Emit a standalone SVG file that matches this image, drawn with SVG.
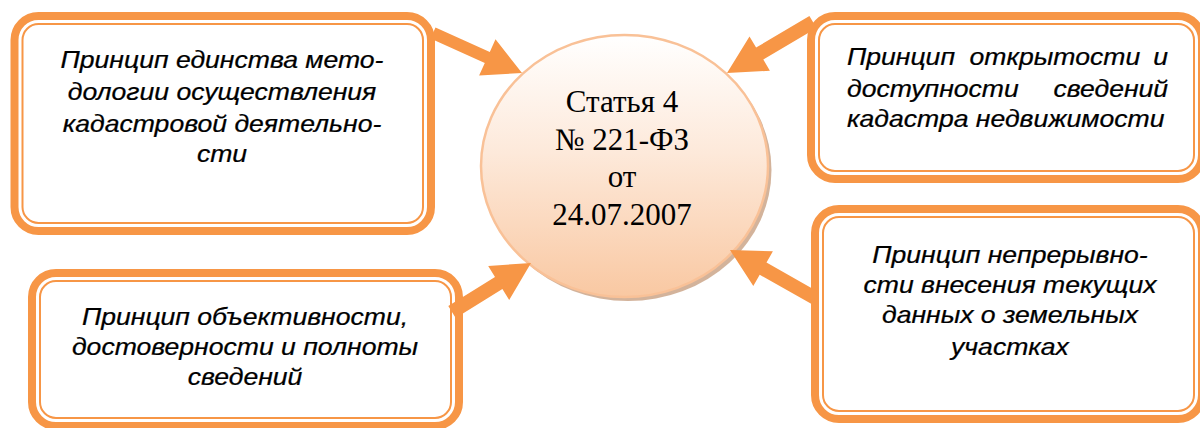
<svg xmlns="http://www.w3.org/2000/svg" width="1200" height="428" viewBox="0 0 1200 428">
<defs>
<linearGradient id="cg" x1="0" y1="0" x2="0" y2="1">
<stop offset="0" stop-color="#FFFFFF"/>
<stop offset="0.45" stop-color="#FDE9DA"/>
<stop offset="1" stop-color="#F9C8A2"/>
</linearGradient>
<style>
.outer{fill:#FFFFFF;stroke:#F79646;stroke-width:8}
.inner{fill:none;stroke:#F79646;stroke-width:2}
.arrow{fill:#F79646;stroke:none}
.bt{font-family:"Liberation Sans",Arial,sans-serif;font-style:italic;font-size:24.5px;fill:#000000;stroke:#000000;stroke-width:0.25}
.ct{font-family:"Liberation Serif","Times New Roman",serif;font-size:31px;fill:#000000;text-anchor:middle}
.mid{text-anchor:middle}
</style>
</defs>
<rect width="1200" height="428" fill="#FFFFFF"/>

<g id="node-center">
<ellipse cx="628" cy="170" rx="143.5" ry="131" fill="#C49A7A" opacity="0.75"/>
<ellipse cx="624.5" cy="166" rx="143.5" ry="131" fill="url(#cg)" stroke="#F9C197" stroke-width="2.5"/>
<text class="ct" x="622" y="112">Статья 4</text>
<text class="ct" x="622" y="150">№ 221-ФЗ</text>
<text class="ct" x="622" y="187">от</text>
<text class="ct" x="622" y="225">24.07.2007</text>
</g>

<g id="node-unity">
<rect class="outer" x="14.5" y="16" width="416.5" height="215" rx="24"/>
<rect class="inner" x="22.5" y="24" width="400.5" height="199" rx="16"/>
<g transform="translate(222 0) scale(1.085 1)">
<text class="bt mid" x="0" y="68">Принцип единства мето-</text>
<text class="bt mid" x="0" y="100">дологии осуществления</text>
<text class="bt mid" x="0" y="132">кадастровой деятельно-</text>
<text class="bt mid" x="0" y="162">сти</text>
</g>
</g>

<g id="node-openness">
<rect class="outer" x="811" y="16" width="391" height="163" rx="24"/>
<rect class="inner" x="819" y="24" width="375" height="147" rx="16"/>
<g transform="translate(847 0) scale(1.085 1)">
<text class="bt" x="0" y="65">Принцип</text>
<text class="bt" x="113" y="65">открытости</text>
<text class="bt" x="296" y="65" text-anchor="end">и</text>
<text class="bt" x="0" y="97">доступности</text>
<text class="bt" x="296" y="97" text-anchor="end">сведений</text>
<text class="bt" x="0" y="127">кадастра недвижимости</text>
</g>
</g>

<g id="node-objectivity">
<rect class="outer" x="32" y="273" width="427" height="153" rx="24"/>
<rect class="inner" x="40" y="281" width="411" height="137" rx="16"/>
<g transform="translate(245 0) scale(1.085 1)">
<text class="bt mid" x="0" y="325">Принцип объективности,</text>
<text class="bt mid" x="0" y="355">достоверности и полноты</text>
<text class="bt mid" x="0" y="385">сведений</text>
</g>
</g>

<g id="node-continuity">
<rect class="outer" x="815" y="209" width="387" height="210" rx="24"/>
<rect class="inner" x="823" y="217" width="371" height="194" rx="16"/>
<g transform="translate(1010 0) scale(1.085 1)">
<text class="bt mid" x="0" y="263">Принцип непрерывно-</text>
<text class="bt mid" x="0" y="293">сти внесения текущих</text>
<text class="bt mid" x="0" y="323">данных о земельных</text>
<text class="bt mid" x="0" y="355">участках</text>
</g>
</g>

<g id="connectors">
<polygon class="arrow" points="435.5,27.5 489.8,51.9 495.5,39.2 522,73 479.1,75.6 484.8,62.9 430.5,38.5"/>
<polygon class="arrow" points="809.4,16.0 756.1,47.6 749.5,36.4 727,73 769.9,70.8 763.3,59.6 816.6,28.0"/>
<polygon class="arrow" points="455.7,317.9 502.4,288.9 509.2,300.0 531,263 488.2,266.0 495.0,277.1 448.3,306.1"/>
<polygon class="arrow" points="818.4,291.9 766.5,262.6 772.9,251.3 730,250 753.3,286.1 759.7,274.8 811.6,304.1"/>
</g>
</svg>
